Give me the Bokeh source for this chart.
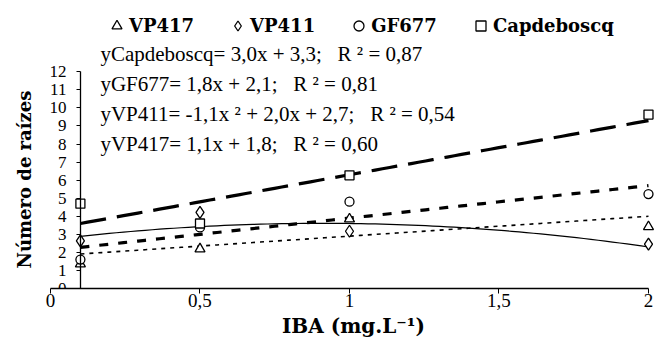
import numpy as np
from bokeh.plotting import figure
from bokeh.models import Range1d, FixedTicker, Legend, LegendItem, Label, Title
from bokeh.embed import file_html
from bokeh.resources import INLINE

# ---- data ----
iba = [0.1, 0.5, 1.0, 2.0]
vp417 = [1.36, 2.19, 3.85, 3.42]
vp411 = [2.64, 4.21, 3.17, 2.46]
gf677 = [1.60, 3.38, 4.81, 5.23]
capdeboscq = [4.70, 3.60, 6.27, 9.63]

# regression coefficients shown on the chart: (x^2, x, const)
fit_capdeboscq = [0.0, 3.0, 3.3]
fit_gf677 = [0.0, 1.8, 2.1]
fit_vp411 = [-1.1, 2.0, 2.7]
fit_vp417 = [0.0, 1.1, 1.8]

series_names = ["VP417", "VP411", "GF677", "Capdeboscq"]
equations = [
    "yCapdeboscq= 3,0x + 3,3;\u00a0\u00a0\u00a0R \u00b2 = 0,87",
    "yGF677= 1,8x + 2,1;\u00a0\u00a0\u00a0R \u00b2 = 0,81",
    "yVP411= -1,1x \u00b2 + 2,0x + 2,7;\u00a0\u00a0\u00a0R \u00b2 = 0,54",
    "yVP417= 1,1x + 1,8;\u00a0\u00a0\u00a0R \u00b2 = 0,60",
]
x_ticks = [0.0, 0.5, 1.0, 1.5, 2.0]
x_tick_labels = ["0", "0,5", "1", "1,5", "2"]
y_ticks = list(range(0, 13))

SERIF = "Liberation Serif"
SERIF_BOLD = "DejaVu Serif"

p = figure(width=656, height=341, title=None,
           x_range=Range1d(0, 2.0268), y_range=Range1d(0, 15.95),
           output_backend="svg", toolbar_location=None,
           min_border_left=50, min_border_right=0,
           min_border_top=0, min_border_bottom=53)
p.grid.visible = False
p.outline_line_color = None
p.background_fill_color = "white"

# ---- trend lines ----
xs = np.linspace(min(iba), max(iba), 80)
def curve(c):
    return c[0] * xs**2 + c[1] * xs + c[2]

p.line(xs, curve(fit_capdeboscq), line_color="black", line_width=3.2, line_dash="26 11")
p.line(xs, curve(fit_gf677), line_color="black", line_width=3.2, line_dash="9 10")
p.line(xs, curve(fit_vp411), line_color="black", line_width=1.2)
p.line(xs, curve(fit_vp417), line_color="black", line_width=1.6, line_dash="4 5")

# ---- markers ----
mk = dict(line_color="black", fill_color="white", line_width=1.3)
r417 = p.scatter(iba, vp417, marker="triangle", size=10, **mk)
r411 = p.scatter(iba, vp411, marker="diamond", size=12, **mk)
r677 = p.scatter(iba, gf677, marker="circle", size=9, **mk)
rcap = p.scatter(iba, capdeboscq, marker="square", size=9, **mk)

# ---- legend ----
legend = Legend(items=[LegendItem(label=series_names[0], renderers=[r417]),
                       LegendItem(label=series_names[1], renderers=[r411]),
                       LegendItem(label=series_names[2], renderers=[r677]),
                       LegendItem(label=series_names[3], renderers=[rcap])],
                orientation="horizontal", location=(54, 248),
                glyph_width=25, glyph_height=29, label_height=29,
                label_standoff=0, spacing=31, padding=0, margin=0,
                border_line_color=None, background_fill_alpha=0,
                label_text_font=SERIF_BOLD, label_text_font_style="bold",
                label_text_font_size="18px", label_text_color="black")
p.add_layout(legend)

# ---- equations ----
eq_y = [13.0, 11.35, 9.69, 7.98]
for txt, yy in zip(equations, eq_y):
    p.add_layout(Label(x=0.167, y=yy, text=txt, text_font=SERIF,
                       text_font_size="21px", text_color="black",
                       text_baseline="alphabetic", text_align="left"))

# ---- axes ----
xa = p.xaxis[0]
xa.bounds = (0, 2)
xa.ticker = FixedTicker(ticks=x_ticks)
xa.major_label_overrides = dict(zip(x_ticks, x_tick_labels))
xa.axis_label = "IBA (mg.L\u207b\u00b9)"
xa.axis_label_text_font = SERIF_BOLD
xa.axis_label_text_font_style = "bold"
xa.axis_label_text_font_size = "20px"
xa.axis_label_standoff = 4
xa.major_label_text_font = SERIF
xa.major_label_text_font_size = "19px"
xa.major_label_standoff = 0
xa.axis_line_width = 1.6
xa.major_tick_out = 5
xa.major_tick_in = 0
xa.minor_tick_out = 0
xa.minor_tick_in = 0

ya = p.yaxis[0]
ya.fixed_location = iba[0]
ya.bounds = (0, 12)
ya.ticker = FixedTicker(ticks=y_ticks)
ya.major_label_text_font = SERIF
ya.major_label_text_font_size = "17px"
ya.major_label_standoff = 10
ya.major_label_orientation = "horizontal"
ya.axis_line_width = 1.3
ya.major_tick_out = 4
ya.major_tick_in = 0
ya.minor_tick_out = 0
ya.minor_tick_in = 0

for ax in (xa, ya):
    ax.axis_line_color = "black"
    ax.major_tick_line_color = "black"
    ax.major_label_text_color = "black"
    ax.axis_label_text_color = "black"

ytitle = Title(text="Número de raízes", align="left", vertical_align="top",
               offset=20, text_font=SERIF_BOLD,
               text_font_style="bold", text_font_size="18px",
               text_color="black", standoff=27)
p.add_layout(ytitle, "left")

open("out.html", "w").write(file_html(p, INLINE))
